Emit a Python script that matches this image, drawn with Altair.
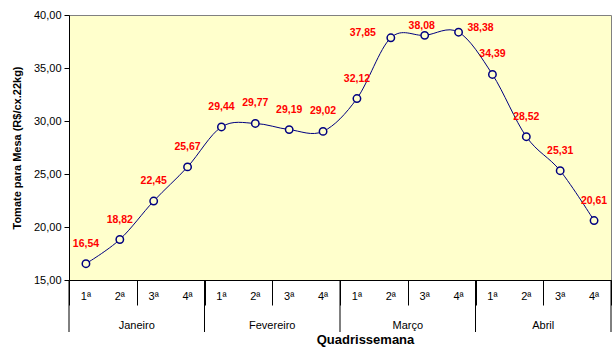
import altair as alt
import pandas as pd

months = ["Janeiro", "Fevereiro", "Março", "Abril"]
quarters = ["1ª", "2ª", "3ª", "4ª"]
prices = [16.54, 18.82, 22.45, 25.67,
          29.44, 29.77, 29.19, 29.02,
          32.12, 37.85, 38.08, 38.38,
          34.39, 28.52, 25.31, 20.61]
y_ticks = [15, 20, 25, 30, 35, 40]

rows = []
for mi, m in enumerate(months):
    for qi, q in enumerate(quarters):
        idx = mi * len(quarters) + qi
        rows.append({"idx": idx, "month": m, "quarter": q, "price": prices[idx]})
df = pd.DataFrame(rows)
df["pos"] = df["idx"] + 0.5
df["label"] = df["price"].map(lambda v: f"{v:.2f}".replace(".", ","))

n = len(df)
month_df = pd.DataFrame({"month": months, "pos": [i * 4 + 2 for i in range(len(months))]})
bound_df = pd.DataFrame({"pos": [i * 4 for i in range(len(months) + 1)]})

W, H = 542, 265
xscale = alt.Scale(domain=[0, n], nice=False, zero=False)
yscale = alt.Scale(domain=[15, 40], nice=False, zero=False)

x_axis = alt.Axis(values=list(range(n + 1)), labels=False, ticks=True, tickSize=25,
                  tickColor="black", domainColor="black", grid=False,
                  title="Quadrissemana", titleFont="Arial", titleFontSize=13,
                  titleFontWeight="bold", titleColor="black",
                  titleX=296, titleY=66, titleBaseline="bottom", titleAlign="center")
y_axis = alt.Axis(values=y_ticks, tickSize=5, tickColor="black", domainColor="black",
                  grid=False, labelFont="Arial", labelFontSize=11, labelColor="black",
                  labelPadding=3,
                  labelExpr="replace(format(datum.value, '.2f'), '.', ',')",
                  title="Tomate para Mesa (R$/cx.22kg)", titleFont="Arial",
                  titleFontSize=11, titleFontWeight="bold", titleColor="black",
                  titleX=-52, titleY=H / 2, titleAngle=-90, titleAlign="center",
                  titleBaseline="middle")

base = alt.Chart(df)

line = base.mark_line(color="#000080", strokeWidth=1, interpolate="cardinal").encode(
    x=alt.X("pos:Q", scale=xscale, axis=x_axis),
    y=alt.Y("price:Q", scale=yscale, axis=y_axis),
)
pts = base.mark_point(shape="circle", filled=True, fill="#FFFFCC", stroke="#000080",
                      strokeWidth=1.5, size=55, opacity=1).encode(
    x=alt.X("pos:Q", scale=xscale),
    y=alt.Y("price:Q", scale=yscale),
)

lab_font = "Liberation Sans Narrow, Arial Narrow, Arial"
def labels(flt, dx, dy):
    return base.transform_filter(flt).mark_text(
        font=lab_font, fontSize=10.5, fontWeight="bold", color="#FF0000",
        dx=dx, dy=dy, baseline="middle", align="center").encode(
        x=alt.X("pos:Q", scale=xscale),
        y=alt.Y("price:Q", scale=yscale),
        text="label:N",
    )

lab_main = labels("datum.idx < 9 || datum.idx > 11", 0, -20)
lab_9 = labels("datum.idx == 9", -28, -5)
lab_10 = labels("datum.idx == 10", -3, -9)
lab_11 = labels("datum.idx == 11", 22, -4)

qlab = base.mark_text(font="Arial", fontSize=11, color="black", baseline="middle").encode(
    x=alt.X("pos:Q", scale=xscale),
    y=alt.value(H + 17),
    text="quarter:N",
)
mlab = alt.Chart(month_df).mark_text(font="Arial", fontSize=11, color="black",
                                     baseline="middle").encode(
    x=alt.X("pos:Q", scale=xscale),
    y=alt.value(H + 46),
    text="month:N",
)
brules = alt.Chart(bound_df).mark_rule(color="black", strokeWidth=1).encode(
    x=alt.X("pos:Q", scale=xscale),
    y=alt.value(H),
    y2=alt.value(H + 52),
)

chart = alt.layer(line, pts, lab_main, lab_9, lab_10, lab_11, qlab, mlab, brules).properties(
    width=W, height=H,
    padding={"left": 69, "top": 15, "right": 4, "bottom": 74},
    autosize=alt.AutoSizeParams(type="none"),
    background="white",
).configure_view(fill="#FFFFCC", stroke="#808080", strokeWidth=1)

chart.save("out.html", embed_options={"renderer": "svg", "actions": False})
